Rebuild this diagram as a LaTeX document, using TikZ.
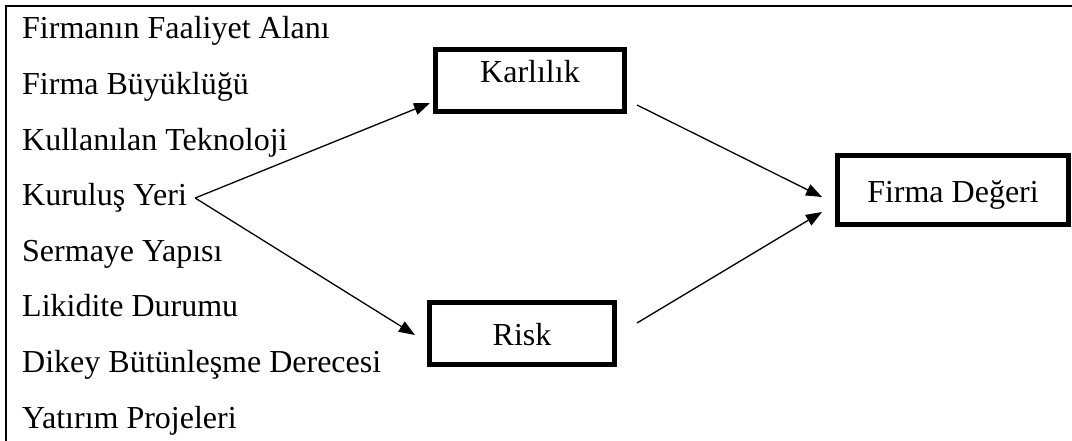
\documentclass[tikz,border=0pt]{standalone}
\usepackage{fontspec}
\setmainfont{Liberation Serif}
\usetikzlibrary{arrows.meta,calc}
\begin{document}
\begin{tikzpicture}[x=1pt,y=-1pt,
  every node/.style={font=\fontsize{32}{38}\selectfont},
  item/.style={anchor=base west,inner sep=0pt},
  boxnode/.style={draw,line width=5pt,inner sep=0pt,outer sep=0pt},
  conn/.style={line width=1.3pt,-{Triangle[length=16pt,width=12pt]}},
  frame/.style={line width=2.2pt}]
\useasboundingbox (0,0) rectangle (1072,441);
\draw[frame] (1072,5.7) -- (6.2,5.7) -- (6.2,441);
\node[item] (i1) at (22,39) {Firmanın Faaliyet Alanı};
\node[item] (i2) at (22,94.6) {Firma Büyüklüğü};
\node[item] (i3) at (22,150.1) {Kullanılan Teknoloji};
\node[item] (ky) at (22,205.7) {Kuruluş Yeri};
\node[item] (i5) at (22,261.3) {Sermaye Yapısı};
\node[item] (i6) at (22,316.9) {Likidite Durumu};
\node[item] (i7) at (22,372.4) {Dikey Bütünleşme Derecesi};
\node[item] (i8) at (22,428) {Yatırım Projeleri};
\node[boxnode,minimum width=189pt,minimum height=62pt,text height=22pt,text depth=17.6pt] (karlilik) at (530,80.5) {Karlılık};
\node[boxnode,minimum width=185pt,minimum height=62pt,text height=23pt,text depth=0pt] (risk) at (522,333.5) {Risk};
\node[boxnode,minimum width=231pt,minimum height=69pt,text height=25.4pt,text depth=0pt] (firma) at (953,190) {Firma Değeri};
\coordinate (kyend) at ($(ky.east)+(8,0)$);
\draw[conn] (kyend) -- ($(karlilik.west)+(-5.5,22.5)$);
\draw[conn] (kyend) -- ($(risk.west)+(-14.5,1.5)$);
\draw[conn] ($(karlilik.east)+(12.5,24.5)$) -- ($(firma.west)+(-15.5,7)$);
\draw[conn] ($(risk.east)+(22.5,-10.5)$) -- ($(firma.west)+(-15.5,22)$);
\end{tikzpicture}
\end{document}
